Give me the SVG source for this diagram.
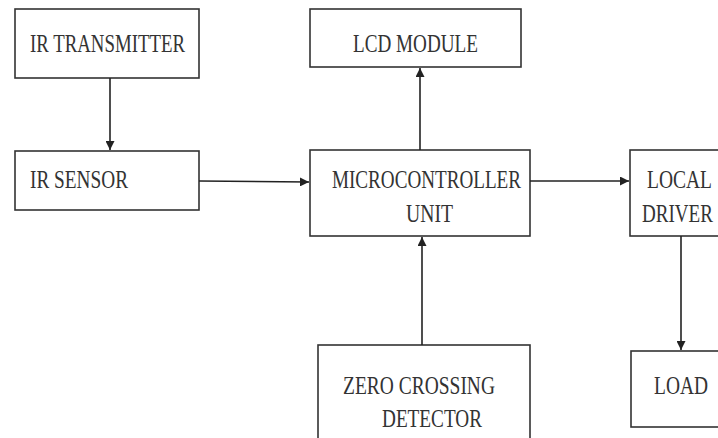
<svg xmlns="http://www.w3.org/2000/svg" width="718" height="438" viewBox="0 0 718 438">
<defs>
<marker id="ah" viewBox="0 0 10 10" refX="10" refY="5" markerWidth="9" markerHeight="9" markerUnits="userSpaceOnUse" orient="auto">
<path d="M0,0 L10,5 L0,10 z" fill="#222"/>
</marker>
</defs>
<style>
.box{fill:#fff;stroke:#333;stroke-width:1.6}
.t{font-family:"Liberation Serif","Times New Roman",serif;font-size:25px;fill:#333}
.c{stroke:#222;stroke-width:1.6;fill:none;marker-end:url(#ah)}
</style>
<rect width="718" height="438" fill="#fff"/>
<g id="ir-transmitter">
<rect class="box" x="15" y="9" width="184" height="69"/>
<text class="t" x="30" y="52" textLength="155" lengthAdjust="spacingAndGlyphs">IR TRANSMITTER</text>
</g>
<g id="ir-sensor">
<rect class="box" x="15" y="151" width="184" height="59"/>
<text class="t" x="30" y="188" textLength="98" lengthAdjust="spacingAndGlyphs">IR SENSOR</text>
</g>
<g id="lcd-module">
<rect class="box" x="310" y="9" width="211" height="58"/>
<text class="t" x="353" y="52" textLength="125" lengthAdjust="spacingAndGlyphs">LCD MODULE</text>
</g>
<g id="mcu">
<rect class="box" x="310" y="150" width="220" height="86"/>
<text class="t" x="332" y="188" textLength="189" lengthAdjust="spacingAndGlyphs">MICROCONTROLLER</text>
<text class="t" x="406" y="222" textLength="47" lengthAdjust="spacingAndGlyphs">UNIT</text>
</g>
<g id="local-driver">
<rect class="box" x="630" y="150" width="100" height="86"/>
<text class="t" x="647" y="188" textLength="65" lengthAdjust="spacingAndGlyphs">LOCAL</text>
<text class="t" x="642" y="222" textLength="71" lengthAdjust="spacingAndGlyphs">DRIVER</text>
</g>
<g id="zero-crossing-detector">
<rect class="box" x="318" y="345" width="212" height="110"/>
<text class="t" x="343" y="394" textLength="152" lengthAdjust="spacingAndGlyphs">ZERO CROSSING</text>
<text class="t" x="382" y="427" textLength="100" lengthAdjust="spacingAndGlyphs">DETECTOR</text>
</g>
<g id="load">
<rect class="box" x="631" y="351" width="100" height="76"/>
<text class="t" x="654" y="394" textLength="54" lengthAdjust="spacingAndGlyphs">LOAD</text>
</g>
<g id="connectors">
<line class="c" x1="110" y1="78" x2="110" y2="150"/>
<line class="c" x1="199" y1="181" x2="309" y2="182"/>
<line class="c" x1="420" y1="150" x2="420" y2="68"/>
<line class="c" x1="530" y1="181" x2="629" y2="181"/>
<line class="c" x1="422" y1="345" x2="422" y2="237"/>
<line class="c" x1="681" y1="236" x2="681" y2="350"/>
</g>
</svg>
